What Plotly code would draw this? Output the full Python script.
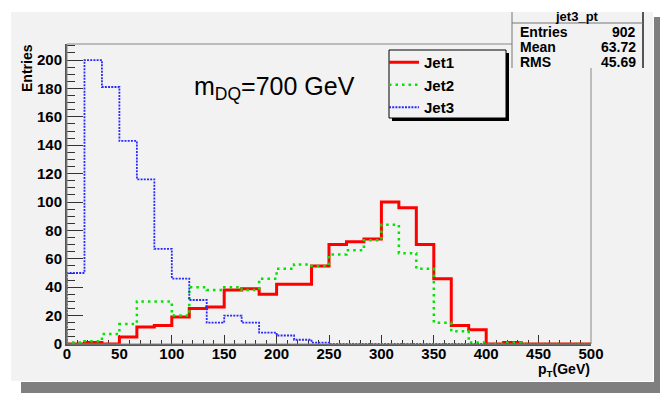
import plotly.graph_objects as go

# ---------------- data ----------------
n_bins = 30
x_min, x_max = 0, 500
bin_width = (x_max - x_min) / n_bins

jet1 = [0, 1, 0, 5, 12, 13, 19, 25, 26, 38, 39, 35, 42, 42, 55,
        70, 72, 74, 100, 96, 70, 46, 13, 10, 0, 1, 0, 0, 0, 0]
jet2 = [1, 2, 7, 14, 30, 30, 20, 40, 38, 40, 38, 46, 53, 56, 55,
        63, 66, 73, 84, 64, 53, 15, 9, 1, 0, 1, 0, 0, 0, 0]
jet3 = [50, 200, 181, 143, 116, 67, 46, 31, 15, 20, 15, 8, 6, 3, 1,
        0, 0, 0, 0, 0, 0, 0, 0, 0, 0, 0, 0, 0, 0, 0]

series_names = ["Jet1", "Jet2", "Jet3"]
x_ticks = list(range(0, 501, 50))
y_ticks = list(range(0, 201, 20))

stats_title = "jet3_pt"
stats_labels = ["Entries", "Mean", "RMS"]
stats_values = ["902", "63.72", "45.69"]
annotation_text = "m<sub>DQ</sub>=700 GeV"

# ---------------- layout geometry ----------------
W_FIG, H_FIG = 660, 393
L, R, T, B = 67, 69, 44, 49
PW, PH = W_FIG - L - R, H_FIG - T - B


def px(x):
    return (x - L) / PW


def py(y):
    return (T + PH - y) / PH


edges = [x_min + i * bin_width for i in range(n_bins + 1)]


def step_xy(vals):
    xs = [edges[0]] + edges[:-1] + [edges[-1], edges[-1]]
    ys = [0] + list(vals) + [vals[-1], 0]
    return xs, ys


styles = [
    dict(color="#ff0000", width=3, dash="solid"),
    dict(color="#00e600", width=2.5, dash="2.5px,4px"),
    dict(color="#2a2aff", width=1.8, dash="2px,1.2px"),
]

fig = go.Figure()
for name, vals, st in zip(series_names, [jet1, jet2, jet3], styles):
    xs, ys = step_xy(vals)
    fig.add_trace(go.Scatter(x=xs, y=ys, mode="lines", name=name,
                             line=dict(shape="hv", **st), legendgroup=name))

FONT = "Liberation Sans, Arial, Helvetica, sans-serif"
BOLD = dict(family=FONT, color="black", weight=700)

axis_common = dict(showgrid=False, zeroline=False, showline=True,
                   linecolor="#555555", linewidth=2, ticks="inside",
                   tickcolor="#333333", tickwidth=1, layer="below traces",
                   tickfont=dict(size=15, **BOLD))

fig.update_xaxes(range=[x_min, x_max], tickvals=x_ticks, ticklen=9,
                 ticklabelstandoff=-5,
                 minor=dict(dtick=10, ticks="inside", ticklen=4.5,
                            tickcolor="#333333", showgrid=False),
                 **axis_common)
fig.update_yaxes(range=[0, 211.3], tickvals=y_ticks, ticklen=16,
                 minor=dict(dtick=5, ticks="inside", ticklen=8,
                            tickcolor="#333333", showgrid=False),
                 **axis_common)

shapes = [
    # canvas and its shadow
    dict(type="rect", xref="paper", yref="paper", layer="below",
         x0=px(21), x1=px(660), y0=py(393), y1=py(382),
         fillcolor="#7f7f7f", line=dict(width=0)),
    dict(type="rect", xref="paper", yref="paper", layer="below",
         x0=px(654), x1=px(660), y0=py(393), y1=py(17),
         fillcolor="#7f7f7f", line=dict(width=0)),
    dict(type="rect", xref="paper", yref="paper", layer="below",
         x0=px(11), x1=px(653), y0=py(381), y1=py(12),
         fillcolor="#f2f2f2", line=dict(width=0)),
    # frame
    dict(type="rect", xref="paper", yref="paper", layer="above",
         x0=0, x1=1, y0=0, y1=1, line=dict(color="#888888", width=1)),
    # stats box
    dict(type="rect", xref="paper", yref="paper", layer="above",
         x0=px(512), x1=px(643), y0=py(68), y1=py(12),
         fillcolor="#f2f2f2", line=dict(width=0)),
    dict(type="line", xref="paper", yref="paper", layer="above",
         x0=px(512), x1=px(512), y0=py(68), y1=py(12),
         line=dict(color="#777777", width=1)),
    dict(type="line", xref="paper", yref="paper", layer="above",
         x0=px(643), x1=px(643), y0=py(68), y1=py(12),
         line=dict(color="#555555", width=2)),
    dict(type="line", xref="paper", yref="paper", layer="above",
         x0=px(512), x1=px(643), y0=py(23), y1=py(23),
         line=dict(color="#777777", width=1)),
    # legend box with shadow
    dict(type="rect", xref="paper", yref="paper", layer="above",
         x0=px(392), x1=px(509), y0=py(121), y1=py(53),
         fillcolor="black", line=dict(width=0)),
    dict(type="rect", xref="paper", yref="paper", layer="above",
         x0=px(389), x1=px(506), y0=py(118), y1=py(50),
         fillcolor="#f2f2f2", line=dict(color="black", width=1)),
]

annotations = [
    dict(text="Entries", x=px(26.5), y=py(68.5), xref="paper", yref="paper",
         textangle=-90, showarrow=False, xanchor="center", yanchor="middle",
         font=dict(size=14, **BOLD)),
    dict(text="p<sub>T</sub>(GeV)", x=px(591), y=py(360), xref="paper",
         yref="paper", showarrow=False, xanchor="right", yanchor="top",
         borderpad=0, font=dict(size=14, **BOLD)),
    dict(text=annotation_text, x=px(192), y=py(88), xref="paper",
         yref="paper", showarrow=False, xanchor="left", yanchor="middle",
         font=dict(size=25, family=FONT, color="black")),
    dict(text=stats_title, x=px(577), y=py(16), xref="paper", yref="paper",
         showarrow=False, xanchor="center", yanchor="middle",
         font=dict(size=13, **BOLD)),
]
for i, (lab, val) in enumerate(zip(stats_labels, stats_values)):
    yy = 32 + i * 15
    annotations.append(dict(text=lab, x=px(518), y=py(yy), xref="paper",
                            yref="paper", showarrow=False, xanchor="left",
                            yanchor="middle", font=dict(size=14, **BOLD)))
    annotations.append(dict(text=val, x=px(638), y=py(yy), xref="paper",
                            yref="paper", showarrow=False, xanchor="right",
                            yanchor="middle", font=dict(size=14, **BOLD)))

fig.update_layout(
    width=W_FIG, height=H_FIG,
    margin=dict(l=L, r=R, t=T, b=B),
    paper_bgcolor="white", plot_bgcolor="#f2f2f2",
    shapes=shapes, annotations=annotations,
    showlegend=True,
    legend=dict(x=px(384), y=py(46), xanchor="left", yanchor="top",
                bgcolor="rgba(0,0,0,0)", borderwidth=0, itemwidth=30,
                tracegroupgap=0, font=dict(size=15, **BOLD)),
)

fig.write_html("out.html")
